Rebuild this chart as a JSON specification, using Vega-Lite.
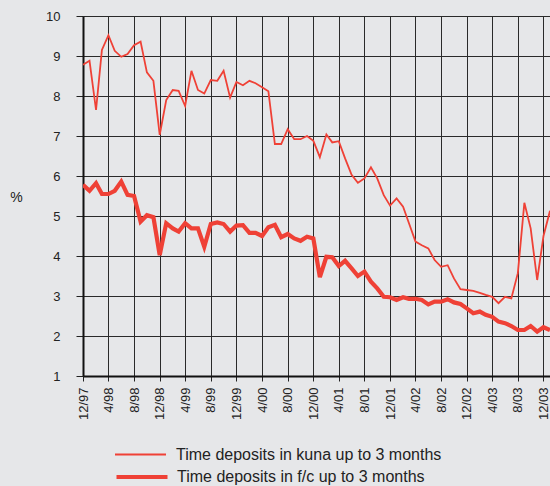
{
  "$schema": "https://vega.github.io/schema/vega-lite/v6.json",
  "width": 467,
  "height": 360,
  "autosize": {"type": "none"},
  "padding": {"left": 83, "top": 16, "right": 0, "bottom": 110},
  "background": "#e6e7e9",
  "config": {"view": {"stroke": null}, "font": "Liberation Sans"},
  "data": {"values": [
    {"date": "1997-12-01", "kuna": 8.78, "fc": 5.78},
    {"date": "1998-01-01", "kuna": 8.88, "fc": 5.63},
    {"date": "1998-02-01", "kuna": 7.65, "fc": 5.82},
    {"date": "1998-03-01", "kuna": 9.15, "fc": 5.55},
    {"date": "1998-04-01", "kuna": 9.52, "fc": 5.55},
    {"date": "1998-05-01", "kuna": 9.13, "fc": 5.63},
    {"date": "1998-06-01", "kuna": 8.98, "fc": 5.86},
    {"date": "1998-07-01", "kuna": 9.05, "fc": 5.53},
    {"date": "1998-08-01", "kuna": 9.27, "fc": 5.5},
    {"date": "1998-09-01", "kuna": 9.36, "fc": 4.86},
    {"date": "1998-10-01", "kuna": 8.59, "fc": 5.02},
    {"date": "1998-11-01", "kuna": 8.38, "fc": 4.97},
    {"date": "1998-12-01", "kuna": 7.03, "fc": 4.02},
    {"date": "1999-01-01", "kuna": 7.9, "fc": 4.82},
    {"date": "1999-02-01", "kuna": 8.15, "fc": 4.69},
    {"date": "1999-03-01", "kuna": 8.13, "fc": 4.61},
    {"date": "1999-04-01", "kuna": 7.75, "fc": 4.82},
    {"date": "1999-05-01", "kuna": 8.63, "fc": 4.69},
    {"date": "1999-06-01", "kuna": 8.15, "fc": 4.69},
    {"date": "1999-07-01", "kuna": 8.06, "fc": 4.23},
    {"date": "1999-08-01", "kuna": 8.4, "fc": 4.8},
    {"date": "1999-09-01", "kuna": 8.38, "fc": 4.84},
    {"date": "1999-10-01", "kuna": 8.63, "fc": 4.8},
    {"date": "1999-11-01", "kuna": 7.96, "fc": 4.61},
    {"date": "1999-12-01", "kuna": 8.35, "fc": 4.76},
    {"date": "2000-01-01", "kuna": 8.27, "fc": 4.77},
    {"date": "2000-02-01", "kuna": 8.38, "fc": 4.58},
    {"date": "2000-03-01", "kuna": 8.32, "fc": 4.58},
    {"date": "2000-04-01", "kuna": 8.22, "fc": 4.5},
    {"date": "2000-05-01", "kuna": 8.12, "fc": 4.72},
    {"date": "2000-06-01", "kuna": 6.8, "fc": 4.78},
    {"date": "2000-07-01", "kuna": 6.8, "fc": 4.47},
    {"date": "2000-08-01", "kuna": 7.17, "fc": 4.55},
    {"date": "2000-09-01", "kuna": 6.92, "fc": 4.44},
    {"date": "2000-10-01", "kuna": 6.92, "fc": 4.38},
    {"date": "2000-11-01", "kuna": 7.0, "fc": 4.48},
    {"date": "2000-12-01", "kuna": 6.88, "fc": 4.44},
    {"date": "2001-01-01", "kuna": 6.47, "fc": 3.47},
    {"date": "2001-02-01", "kuna": 7.04, "fc": 3.98},
    {"date": "2001-03-01", "kuna": 6.84, "fc": 3.97},
    {"date": "2001-04-01", "kuna": 6.87, "fc": 3.75},
    {"date": "2001-05-01", "kuna": 6.44, "fc": 3.88},
    {"date": "2001-06-01", "kuna": 6.03, "fc": 3.69},
    {"date": "2001-07-01", "kuna": 5.83, "fc": 3.5},
    {"date": "2001-08-01", "kuna": 5.94, "fc": 3.61},
    {"date": "2001-09-01", "kuna": 6.22, "fc": 3.36},
    {"date": "2001-10-01", "kuna": 5.94, "fc": 3.19},
    {"date": "2001-11-01", "kuna": 5.52, "fc": 2.98},
    {"date": "2001-12-01", "kuna": 5.26, "fc": 2.97},
    {"date": "2002-01-01", "kuna": 5.44, "fc": 2.9},
    {"date": "2002-02-01", "kuna": 5.23, "fc": 2.97},
    {"date": "2002-03-01", "kuna": 4.82, "fc": 2.93},
    {"date": "2002-04-01", "kuna": 4.36, "fc": 2.93},
    {"date": "2002-05-01", "kuna": 4.27, "fc": 2.9},
    {"date": "2002-06-01", "kuna": 4.19, "fc": 2.79},
    {"date": "2002-07-01", "kuna": 3.9, "fc": 2.86},
    {"date": "2002-08-01", "kuna": 3.73, "fc": 2.86},
    {"date": "2002-09-01", "kuna": 3.77, "fc": 2.92},
    {"date": "2002-10-01", "kuna": 3.44, "fc": 2.84},
    {"date": "2002-11-01", "kuna": 3.17, "fc": 2.8},
    {"date": "2002-12-01", "kuna": 3.15, "fc": 2.69},
    {"date": "2003-01-01", "kuna": 3.13, "fc": 2.57},
    {"date": "2003-02-01", "kuna": 3.08, "fc": 2.61},
    {"date": "2003-03-01", "kuna": 3.03, "fc": 2.53},
    {"date": "2003-04-01", "kuna": 2.98, "fc": 2.48},
    {"date": "2003-05-01", "kuna": 2.82, "fc": 2.36},
    {"date": "2003-06-01", "kuna": 2.98, "fc": 2.32},
    {"date": "2003-07-01", "kuna": 2.94, "fc": 2.25},
    {"date": "2003-08-01", "kuna": 3.57, "fc": 2.15},
    {"date": "2003-09-01", "kuna": 5.33, "fc": 2.15},
    {"date": "2003-10-01", "kuna": 4.69, "fc": 2.25},
    {"date": "2003-11-01", "kuna": 3.4, "fc": 2.11},
    {"date": "2003-12-01", "kuna": 4.5, "fc": 2.22},
    {"date": "2004-01-01", "kuna": 5.13, "fc": 2.15}
  ]},
  "transform": [
    {"fold": ["kuna", "fc"], "as": ["key", "value"]},
    {"lookup": "key", "from": {"data": {"values": [
      {"key": "kuna", "series": "Time deposits in kuna up to 3 months", "name": "Time deposits in kuna up to 3 months"},
      {"key": "fc", "series": "Time deposits in f/c up to 3 months", "name": "Time deposits in f/c up to 3 months"}
    ]}, "key": "key", "fields": ["series", "name"]}}
  ],
  "mark": {"type": "line", "clip": true},
  "encoding": {
    "x": {
      "field": "date", "type": "temporal", "timeUnit": "utcyearmonth",
      "scale": {"domain": [
        {"year": 1997, "month": 12, "date": 1, "utc": true},
        {"year": 2004, "month": 1, "date": 1, "utc": true}
      ]},
      "axis": {
        "title": null,
        "values": [
          {"year": 1997, "month": 12, "date": 1, "utc": true},
          {"year": 1998, "month": 4, "date": 1, "utc": true},
          {"year": 1998, "month": 8, "date": 1, "utc": true},
          {"year": 1998, "month": 12, "date": 1, "utc": true},
          {"year": 1999, "month": 4, "date": 1, "utc": true},
          {"year": 1999, "month": 8, "date": 1, "utc": true},
          {"year": 1999, "month": 12, "date": 1, "utc": true},
          {"year": 2000, "month": 4, "date": 1, "utc": true},
          {"year": 2000, "month": 8, "date": 1, "utc": true},
          {"year": 2000, "month": 12, "date": 1, "utc": true},
          {"year": 2001, "month": 4, "date": 1, "utc": true},
          {"year": 2001, "month": 8, "date": 1, "utc": true},
          {"year": 2001, "month": 12, "date": 1, "utc": true},
          {"year": 2002, "month": 4, "date": 1, "utc": true},
          {"year": 2002, "month": 8, "date": 1, "utc": true},
          {"year": 2002, "month": 12, "date": 1, "utc": true},
          {"year": 2003, "month": 4, "date": 1, "utc": true},
          {"year": 2003, "month": 8, "date": 1, "utc": true},
          {"year": 2003, "month": 12, "date": 1, "utc": true}
        ],
        "format": "%-m/%y",
        "labelAngle": 270,
        "labelFontSize": 13,
        "labelColor": "#222222",
        "labelPadding": 6,
        "labelOverlap": false,
        "labelFlush": false,
        "tickSize": 5,
        "tickColor": "#222222",
        "grid": true,
        "gridColor": "#2a2a2a",
        "gridWidth": 1,
        "domainColor": "#111111",
        "domainWidth": 2
      }
    },
    "y": {
      "field": "value", "type": "quantitative",
      "scale": {"domain": [1, 10], "nice": false, "zero": false},
      "axis": {
        "title": "%",
        "titleAngle": 0,
        "titleX": -67,
        "titleY": 181,
        "titleAlign": "center",
        "titleBaseline": "middle",
        "titleFontSize": 14,
        "titleFontWeight": "normal",
        "titleColor": "#222222",
        "values": [1, 2, 3, 4, 5, 6, 7, 8, 9, 10],
        "labelFontSize": 13,
        "labelColor": "#222222",
        "labelPadding": 16,
        "tickSize": 7,
        "tickColor": "#222222",
        "grid": true,
        "gridColor": "#2a2a2a",
        "gridWidth": 1,
        "domainColor": "#111111",
        "domainWidth": 2
      }
    },
    "detail": {"field": "series"},
    "color": {
      "field": "name", "type": "nominal",
      "scale": {
        "domain": ["Time deposits in f/c up to 3 months", "Time deposits in kuna up to 3 months"],
        "range": ["#ef4136", "#ef4136"]
      },
      "legend": {
        "values": ["Time deposits in f/c up to 3 months"],
        "title": null,
        "orient": "none",
        "legendX": 31,
        "legendY": 433,
        "padding": 0,
        "symbolType": "stroke",
        "symbolSize": 2600,
        "symbolStrokeWidth": 4.2,
        "labelFontSize": 16,
        "labelLimit": 400,
        "labelColor": "#222222",
        "labelOffset": 7
      }
    },
    "strokeWidth": {
      "field": "series", "type": "nominal",
      "scale": {
        "domain": ["Time deposits in kuna up to 3 months", "Time deposits in f/c up to 3 months"],
        "range": [1.8, 4.2]
      },
      "legend": {
        "values": ["Time deposits in kuna up to 3 months"],
        "title": null,
        "orient": "none",
        "legendX": 31,
        "legendY": 412,
        "padding": 0,
        "symbolType": "stroke",
        "symbolSize": 2600,
        "symbolStrokeColor": "#ef4136",
        "labelFontSize": 16,
        "labelLimit": 400,
        "labelColor": "#222222",
        "labelOffset": 9
      }
    }
  }
}
